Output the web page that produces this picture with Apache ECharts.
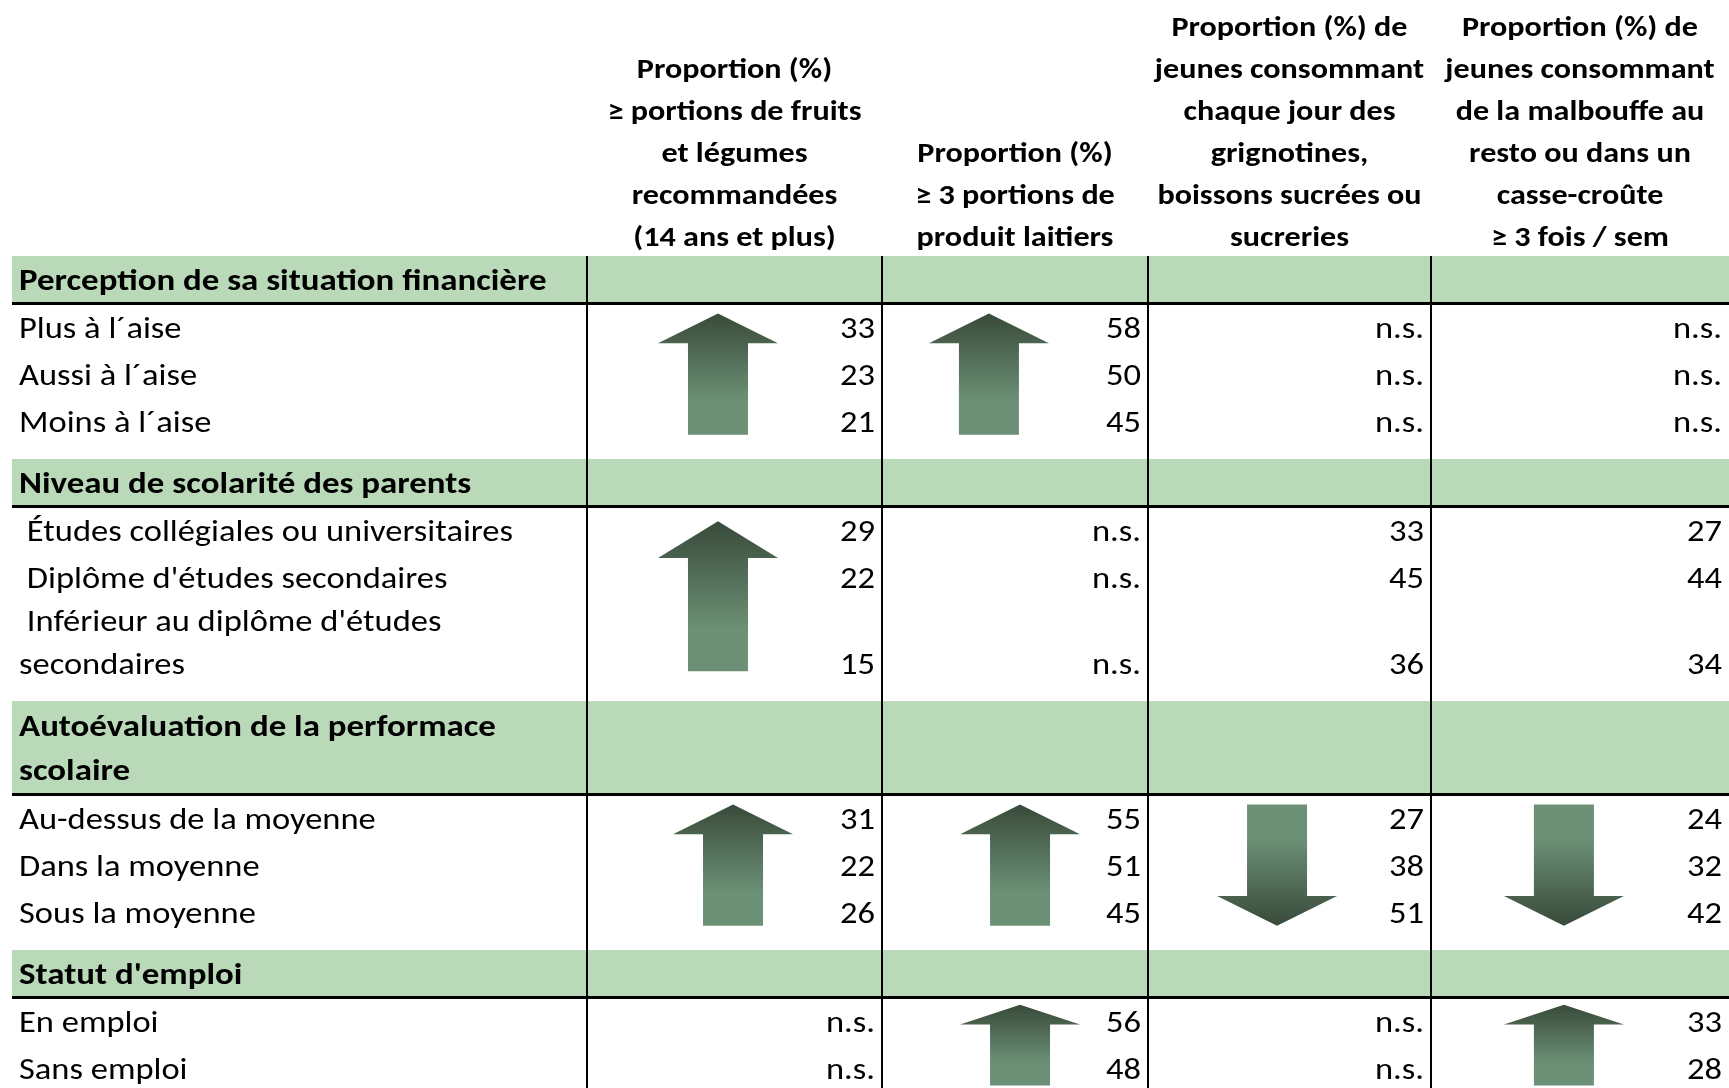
<!DOCTYPE html>
<html><head><meta charset="utf-8">
<script src="https://cdn.jsdelivr.net/npm/echarts/dist/echarts.min.js"></script>
<style>html,body{margin:0;padding:0;background:#fff}#c{width:1729px;height:1088px}</style>
</head><body><div id="c"></div>
<script>
// ---------------- DATA ----------------
const columnTitles = [
  "Proportion (%)\n≥ portions de fruits\net légumes\nrecommandées\n(14 ans et plus)",
  "Proportion (%)\n≥ 3 portions de\nproduit laitiers",
  "Proportion (%) de\njeunes consommant\nchaque jour des\ngrignotines,\nboissons sucrées ou\nsucreries",
  "Proportion (%) de\njeunes consommant\nde la malbouffe au\nresto ou dans un\ncasse-croûte\n≥ 3 fois / sem"
];
const sectionTitles = [
  "Perception de sa situation financière",
  "Niveau de scolarité des parents",
  "Autoévaluation de la performace\nscolaire",
  "Statut d'emploi"
];
const rowLabels = [
  ["Plus à l´aise", "Aussi à l´aise", "Moins à l´aise"],
  [" Études collégiales ou universitaires", " Diplôme d'études secondaires", " Inférieur au diplôme d'études\nsecondaires"],
  ["Au-dessus de la moyenne", "Dans la moyenne", "Sous la moyenne"],
  ["En emploi", "Sans emploi"]
];
// null = n.s.
const fruitsLegumes    = [[33, 23, 21], [29, 22, 15], [31, 22, 26], [null, null]];
const produitsLaitiers = [[58, 50, 45], [null, null, null], [55, 51, 45], [56, 48]];
const grignotines      = [[null, null, null], [33, 45, 36], [27, 38, 51], [null, null]];
const malbouffe        = [[null, null, null], [27, 44, 34], [24, 32, 42], [33, 28]];
// trend arrow per section
const trendFruitsLegumes    = ["up", "up", "up", null];
const trendProduitsLaitiers = ["up", null, "up", "up"];
const trendGrignotines      = [null, null, "down", null];
const trendMalbouffe        = [null, null, "down", "up"];

const valueColumns = [fruitsLegumes, produitsLaitiers, grignotines, malbouffe];
const trendColumns = [trendFruitsLegumes, trendProduitsLaitiers, trendGrignotines, trendMalbouffe];

// ---------------- LAYOUT / STYLE ----------------
const W = 1729, H = 1088;
const TABLE_LEFT = 12;
const COL_EDGES = [587, 882, 1148, 1431, 1729];
const HEADER_BOTTOM = 256, HEADER_LAST_LINE = 239, HEADER_LINE = 42;
const BAND_LINE = 46, BAND_TEXT_SHIFT = 3, RULE = 3, ROW_H = 47, ROW_EXTRA = 39, CELL_LINE = 43, ROW_TEXT_FROM_BOTTOM = 22, SECTION_GAP = 13;
const LABEL_X = 19, VALUE_PAD = 7;
const BAND_COLOR = "#b9d9b9";
const ARROW_DARK = "#394a3a", ARROW_LIGHT = "#6b9075";
const ARROW_HEAD_W = 120, ARROW_SHAFT_W = 60, ARROW_HEAD_RATIO = 0.245, ARROW_MAX = 150, ARROW_LEN_RATIO = 0.86, ARROW_CENTER = 0.49;
// horizontal placement of the arrow inside each cell block [column][section]
const ARROW_FRAC = [[0.444, 0.444, 0.495, 0.46], [0.402, 0.46, 0.519, 0.519], [0.456, 0.456, 0.456, 0.456], [0.446, 0.446, 0.446, 0.446]];

// font choice and horizontal calibration against the reference text widths
const ctx = document.createElement("canvas").getContext("2d");
function mw(font, s) { ctx.font = font; return ctx.measureText(s).width; }
function has(name) {
  const p = "Plus à l´aise abcdefghijklmnopqrstuvwxyz ABCDEFG";
  return mw('30px "' + name + '", monospace', p) !== mw("30px monospace", p);
}
const FAMILY = has("Carlito") ? "Carlito" : (has("Lato") ? "Lato" : "Liberation Sans");
const FS = FAMILY === "Carlito" ? 30 : 28;
const FS_BAND = FAMILY === "Carlito" ? 30 : 28.5;
const FS_HEAD = FAMILY === "Carlito" ? 28 : 27;
const REG_TARGETS = [["Études collégiales ou universitaires", 490], ["Plus à l´aise", 158], ["Au-dessus de la moyenne", 357], ["Diplôme d'études secondaires", 421]];
const BAND_TARGETS = [["Perception de sa situation financière", 528], ["Niveau de scolarité des parents", 452], ["Autoévaluation de la performace", 477], ["Statut d'emploi", 223]];
const HEAD_TARGETS = [["jeunes consommant", 270], ["boissons sucrées ou", 263], ["Proportion (%)", 194], ["(14 ans et plus)", 200], ["≥ 3 portions de", 204]];
function calib(targets, weight, size) {
  let t = 0, m = 0;
  targets.forEach(([s, w]) => { t += w; m += mw(weight + " " + size + 'px "' + FAMILY + '"', s); });
  return t / m;
}
const STYLES = {
  reg:  { size: FS,      weight: "normal", sx: calib(REG_TARGETS, "normal", FS) },
  band: { size: FS_BAND, weight: "bold",   sx: calib(BAND_TARGETS, "bold", FS_BAND) },
  head: { size: FS_HEAD, weight: "bold",   sx: calib(HEAD_TARGETS, "bold", FS_HEAD) }
};

// geometry of sections
const geo = [];
(function () {
  let y = HEADER_BOTTOM;
  sectionTitles.forEach((t, s) => {
    const nl = t.split("\n").length;
    const band = { top: y, bottom: y + BAND_LINE * nl, lines: nl };
    y = band.bottom + RULE;
    const rowsTop = y;
    const rows = rowLabels[s].map(lbl => {
      const n = lbl.split("\n").length;
      const top = y, bottom = y + ROW_H + ROW_EXTRA * (n - 1);
      y = bottom;
      return { top, bottom, lines: n, textY: bottom - ROW_TEXT_FROM_BOTTOM };
    });
    geo.push({ band, rows, rowsTop, rowsBottom: y });
    y += SECTION_GAP;
  });
})();

function textEl(pt, text, kind, o) {
  const st = STYLES[kind];
  return {
    type: "text", x: pt[0], y: pt[1], scaleX: st.sx, z2: 10,
    style: {
      text: text, fill: "#000", fontFamily: FAMILY, fontSize: st.size, fontWeight: st.weight,
      align: (o && o.align) || "left", verticalAlign: "middle",
      lineHeight: (o && o.lineHeight) || st.size
    }
  };
}

const bandItems = sectionTitles.map((_, i) => [i, 0]);
const edgeItems = [0, 1, 2, 3].map(i => [i, 0]);
const headerItems = columnTitles.map((_, i) => [i, 0]);
const labelItems = [];
rowLabels.forEach((rows, s) => rows.forEach((_, r) => labelItems.push([s, r])));
const valueItems = [];
valueColumns.forEach((col, c) => col.forEach((sec, s) => sec.forEach((_, r) => valueItems.push([c, s, r]))));
const arrowItems = [];
trendColumns.forEach((tr, c) => tr.forEach((d, s) => { if (d) arrowItems.push([c, s]); }));

const chart = echarts.init(document.getElementById("c"), null, { renderer: "canvas" });
chart.setOption({
  backgroundColor: "#fff",
  animation: false,
  grid: { left: 0, right: 0, top: 0, bottom: 0 },
  xAxis: { type: "value", min: 0, max: W, show: false },
  yAxis: { type: "value", min: 0, max: H, inverse: true, show: false },
  series: [
    { // green bands + section titles + black rules
      type: "custom", z: 1, data: bandItems,
      renderItem: (p, api) => {
        const s = bandItems[p.dataIndex][0];
        const g = geo[s];
        const a = api.coord([TABLE_LEFT, g.band.top]);
        const b = api.coord([W, g.band.bottom]);
        const ruleY = api.coord([0, g.band.bottom + RULE / 2])[1];
        const mid = api.coord([LABEL_X, (g.band.top + g.band.bottom) / 2 + BAND_TEXT_SHIFT]);
        return { type: "group", children: [
          { type: "rect", shape: { x: a[0], y: a[1], width: b[0] - a[0], height: b[1] - a[1] }, style: { fill: BAND_COLOR } },
          { type: "line", shape: { x1: a[0], y1: ruleY, x2: b[0], y2: ruleY }, style: { stroke: "#000", lineWidth: RULE } },
          textEl(mid, sectionTitles[s], "band", { lineHeight: 44 })
        ]};
      }
    },
    { // vertical column rules
      type: "custom", z: 2, data: edgeItems,
      renderItem: (p, api) => {
        const x = COL_EDGES[edgeItems[p.dataIndex][0]];
        const a = api.coord([x, HEADER_BOTTOM]), b = api.coord([x, H]);
        return { type: "line", shape: { x1: a[0], y1: a[1], x2: b[0], y2: b[1] }, style: { stroke: "#000", lineWidth: 2 } };
      }
    },
    { // column headers
      type: "custom", z: 3, data: headerItems,
      renderItem: (p, api) => {
        const c = headerItems[p.dataIndex][0];
        const n = columnTitles[c].split("\n").length;
        const pt = api.coord([(COL_EDGES[c] + COL_EDGES[c + 1]) / 2, HEADER_LAST_LINE - (n - 1) * HEADER_LINE / 2]);
        return textEl(pt, columnTitles[c], "head", { align: "center", lineHeight: HEADER_LINE });
      }
    },
    { // row labels
      type: "custom", z: 3, data: labelItems,
      renderItem: (p, api) => {
        const [s, r] = labelItems[p.dataIndex];
        const g = geo[s].rows[r];
        const pt = api.coord([LABEL_X, g.textY - (g.lines - 1) * CELL_LINE / 2]);
        return textEl(pt, rowLabels[s][r], "reg", { lineHeight: CELL_LINE });
      }
    },
    { // values
      type: "custom", z: 3, data: valueItems,
      renderItem: (p, api) => {
        const [c, s, r] = valueItems[p.dataIndex];
        const v = valueColumns[c][s][r];
        const pt = api.coord([COL_EDGES[c + 1] - VALUE_PAD, geo[s].rows[r].textY]);
        return textEl(pt, v == null ? "n.s." : String(v), "reg", { align: "right" });
      }
    },
    { // trend arrows
      type: "custom", z: 3, data: arrowItems,
      renderItem: (p, api) => {
        const [c, s] = arrowItems[p.dataIndex];
        const dir = trendColumns[c][s];
        const g = geo[s];
        const cx = COL_EDGES[c] + ARROW_FRAC[c][s] * (COL_EDGES[c + 1] - COL_EDGES[c]);
        const rowsH = g.rowsBottom - g.rowsTop;
        const len = Math.min(ARROW_LEN_RATIO * rowsH, ARROW_MAX);
        const cy = g.rowsTop + ARROW_CENTER * rowsH;
        const top = cy - len / 2, bottom = cy + len / 2;
        const hh = ARROW_HEAD_RATIO * len;
        let pts;
        if (dir === "up") {
          pts = [[cx, top], [cx + ARROW_HEAD_W / 2, top + hh], [cx + ARROW_SHAFT_W / 2, top + hh],
                 [cx + ARROW_SHAFT_W / 2, bottom], [cx - ARROW_SHAFT_W / 2, bottom], [cx - ARROW_SHAFT_W / 2, top + hh],
                 [cx - ARROW_HEAD_W / 2, top + hh]];
        } else {
          pts = [[cx, bottom], [cx + ARROW_HEAD_W / 2, bottom - hh], [cx + ARROW_SHAFT_W / 2, bottom - hh],
                 [cx + ARROW_SHAFT_W / 2, top], [cx - ARROW_SHAFT_W / 2, top], [cx - ARROW_SHAFT_W / 2, bottom - hh],
                 [cx - ARROW_HEAD_W / 2, bottom - hh]];
        }
        const stops = dir === "up"
          ? [{ offset: 0, color: ARROW_DARK }, { offset: 0.72, color: ARROW_LIGHT }, { offset: 1, color: ARROW_LIGHT }]
          : [{ offset: 0, color: ARROW_LIGHT }, { offset: 0.28, color: ARROW_LIGHT }, { offset: 1, color: ARROW_DARK }];
        return { type: "polygon", shape: { points: pts.map(q => api.coord(q)) },
                 style: { fill: { type: "linear", x: 0, y: 0, x2: 0, y2: 1, colorStops: stops } } };
      }
    }
  ]
});
</script></body></html>
